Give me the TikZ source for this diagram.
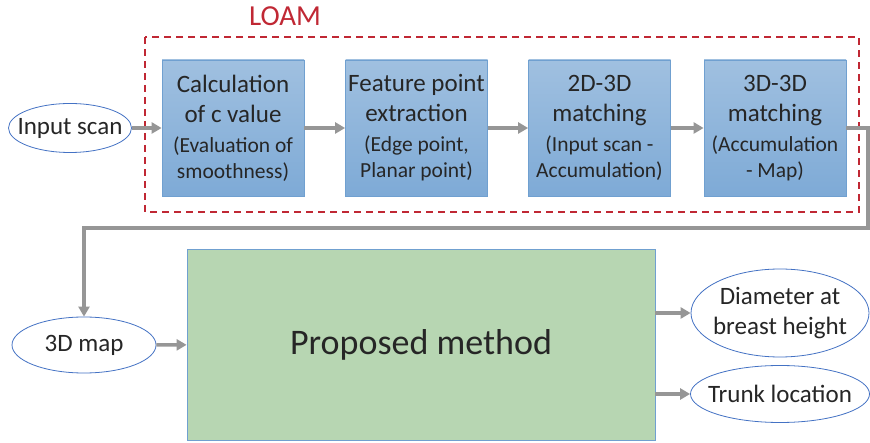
\documentclass[tikz,border=0pt]{standalone}
\usepackage{fontspec}
\setmainfont{Carlito}
\usetikzlibrary{arrows.meta,shapes.geometric}
\definecolor{loamred}{RGB}{192,40,52}
\definecolor{stepblue}{RGB}{112,160,208}
\definecolor{ellblue}{RGB}{68,114,196}
\definecolor{flowgray}{RGB}{150,150,150}
\definecolor{propgreen}{RGB}{183,214,178}
\newcommand{\subtext}{\fontsize{21.5}{26}\selectfont}
\begin{document}
\begin{tikzpicture}[
        x=1pt, y=-1pt,
        stepbox/.style={rectangle, draw=stepblue, line width=0.8pt, top color={rgb,255:red,160;green,192;blue,224}, bottom color={rgb,255:red,126;green,170;blue,214}, minimum width=142pt, minimum height=136pt, inner sep=0pt, align=center, text=black!85, font=\fontsize{25}{30}\selectfont},
        io/.style={ellipse, draw=ellblue, line width=0.8pt, fill=white, inner xsep=-10pt, inner ysep=0pt, align=center, text=black!85, font=\fontsize{25}{30}\selectfont},
        flow/.style={-{Triangle[length=10pt,width=11pt]}, draw=flowgray, line width=3.5pt},
    ]
        \useasboundingbox (0,0) rectangle (870,443);

        % LOAM frame
        \node[text=loamred, font=\fontsize{29}{32}\selectfont] (loamlabel) at (285,16) {LOAM};
        \draw[loamred, line width=1.6pt, dash pattern=on 7pt off 5pt] (145,37) rectangle (859,212);

        % Steps
        \node[stepbox] (calc) at (233,128) {Calculation\\of c value\\{\subtext(Evaluation of}\\[-4pt]{\subtext smoothness)}};
        \node[stepbox] (feat) at (416.5,128) {Feature point\\extraction\\{\subtext(Edge point,}\\[-4pt]{\subtext Planar point)}};
        \node[stepbox] (match2) at (599.5,128) {2D-3D\\matching\\{\subtext(Input scan -}\\[-4pt]{\subtext Accumulation)}};
        \node[stepbox] (match3) at (775,128) {3D-3D\\matching\\{\subtext(Accumulation}\\[-4pt]{\subtext - Map)}};

        % Inputs and outputs
        \node[io, minimum width=123pt, minimum height=49pt] (scan) at (70,128) {Input scan};
        \node[io, minimum width=144pt, minimum height=56pt] (map) at (84,345) {3D map};
        \node[rectangle, draw=stepblue, line width=0.8pt, fill=propgreen, minimum width=468pt, minimum height=191pt, text=black!85, font=\fontsize{36}{40}\selectfont] (method) at (421,344.5) {Proposed method};
        \node[io, minimum width=178pt, minimum height=88pt] (dbh) at (780,313) {Diameter at\\breast height};
        \node[io, minimum width=179pt, minimum height=57pt] (trunk) at (780,394) {Trunk location};
        \coordinate (turn) at (868,228);

        % Arrows
        \draw[flow] (scan) -- (calc);
        \draw[flow] (calc) -- (feat);
        \draw[flow] (feat) -- (match2);
        \draw[flow] (match2) -- (match3);
        \draw[flow] (match3.east) -| (turn) -| (map.north);
        \draw[flow] (map) -- (method);
        \draw[flow] (method.east |- dbh) -- (dbh);
        \draw[flow] (method.east |- trunk) -- (trunk);

    \end{tikzpicture}
\end{document}
